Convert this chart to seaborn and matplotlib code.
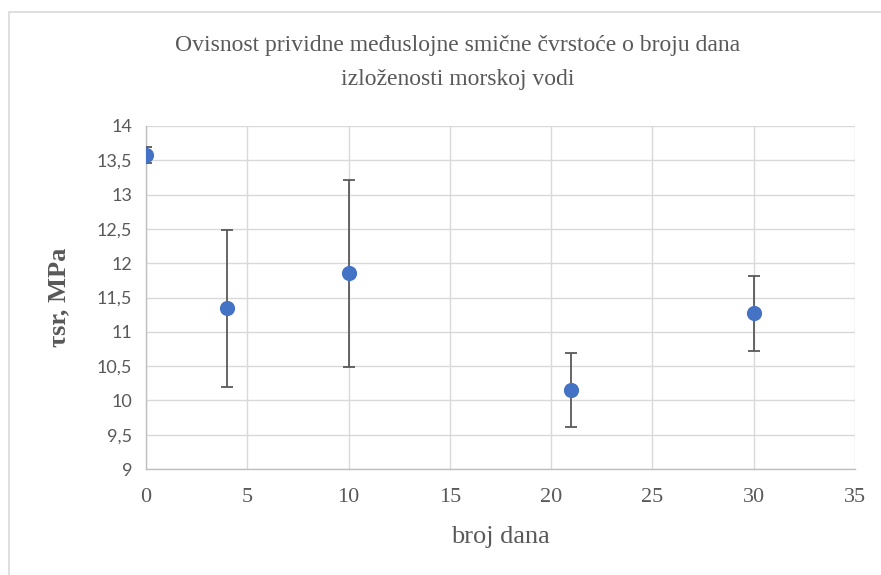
import matplotlib
matplotlib.use("Agg")
import matplotlib.pyplot as plt
from matplotlib.patches import Rectangle
from matplotlib.ticker import FuncFormatter, MultipleLocator
import seaborn as sns
import pandas as pd

# Days of exposure and apparent interlaminar shear strength (MPa)
days = [0, 4, 10, 21, 30]
tau_mean = [13.58, 11.34, 11.85, 10.15, 11.27]
tau_err = [0.12, 1.14, 1.37, 0.54, 0.55]

title_lines = ["Ovisnost prividne međuslojne smične čvrstoće o broju dana",
               "izloženosti morskoj vodi"]
x_label = "broj dana"
y_label = "τsr, MPa"

df = pd.DataFrame({"dani": days, "tau": tau_mean, "err": tau_err})

sns.set_theme(style="white")
serif = ["Liberation Serif", "DejaVu Serif"]
sans = ["Lato", "DejaVu Sans"]

fig = plt.figure(figsize=(8.81, 5.75), dpi=100)
fig.patch.set_facecolor("white")

# outer chart frame
frame = Rectangle((8.5 / 881, -0.1), 2.0, 1.1 - 11.5 / 575, transform=fig.transFigure,
                  fill=False, edgecolor="#D9D9D9", linewidth=1.2, zorder=0)
fig.add_artist(frame)

ax = fig.add_axes([146 / 881, 1 - 469 / 575, 709 / 881, 343 / 575])

ax.errorbar(df["dani"], df["tau"], yerr=df["err"], fmt="none", ecolor="#595959",
            elinewidth=1.3, capsize=4.3, capthick=1.3, zorder=3)
sns.scatterplot(data=df, x="dani", y="tau", ax=ax, color="#4472C4", s=120,
                edgecolor="#4472C4", linewidth=0, zorder=4, legend=False)

ax.set_xlim(0, 35)
ax.set_ylim(9, 14)
ax.xaxis.set_major_locator(MultipleLocator(5))
ax.yaxis.set_major_locator(MultipleLocator(0.5))
ax.yaxis.set_major_formatter(FuncFormatter(lambda v, p: f"{v:g}".replace(".", ",")))

ax.grid(True, color="#D9D9D9", linewidth=1.0)
ax.set_axisbelow(True)
for side in ["top", "right"]:
    ax.spines[side].set_visible(False)
for side in ["left", "bottom"]:
    ax.spines[side].set_color("#BFBFBF")
    ax.spines[side].set_linewidth(1.0)

ax.tick_params(axis="y", length=0, pad=10, colors="#595959")
ax.tick_params(axis="x", length=0, pad=14, colors="#595959")
for lbl in ax.get_yticklabels():
    lbl.set_family(sans)
    lbl.set_fontsize(13)
for lbl in ax.get_xticklabels():
    lbl.set_family(serif)
    lbl.set_fontsize(16)

ax.set_xlabel(x_label, family=serif, fontsize=19, color="#595959")
ax.xaxis.set_label_coords(0.5, -0.165)
ax.set_ylabel(y_label, family=serif, fontsize=19, fontweight="bold", color="#595959")
ax.yaxis.set_label_coords(-0.107, 0.5)

# two-line chart title, each line placed on its own baseline row
for line, y_px in zip(title_lines, [45, 79]):
    fig.text(458 / 881, 1 - y_px / 575, line, ha="center", va="center", family=serif,
             fontsize=17, color="#595959")

fig.savefig("out.png", dpi=100)
